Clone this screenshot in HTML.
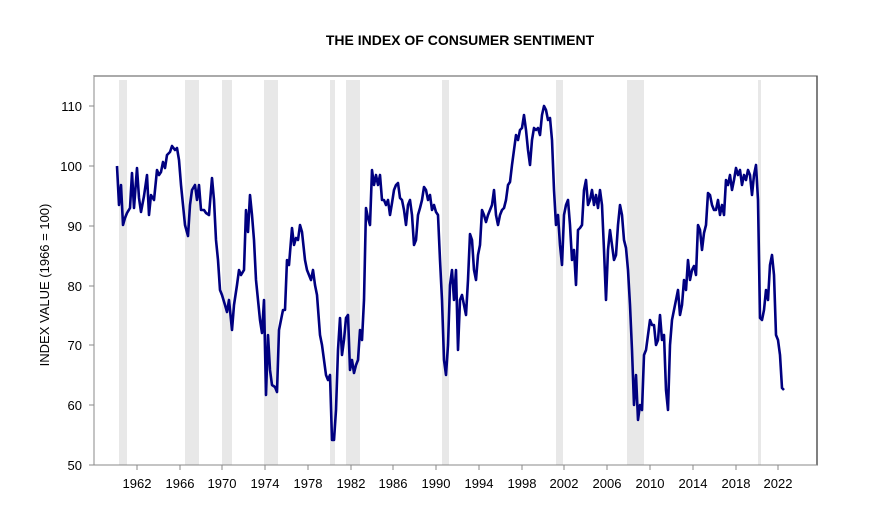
<!DOCTYPE html>
<html><head><style>body{margin:0;background:#fff}svg{display:block;font-family:"Liberation Sans",Arial,sans-serif}</style></head><body>
<svg width="891" height="517" viewBox="0 0 891 517">
<text x="460" y="45" text-anchor="middle" font-size="14" font-weight="bold">THE INDEX OF CONSUMER SENTIMENT</text>
<g fill="#e8e8e8">
<rect x="119" y="80" width="8" height="385"/><rect x="185" y="80" width="14" height="385"/><rect x="222" y="80" width="10" height="385"/><rect x="264" y="80" width="14" height="385"/><rect x="330" y="80" width="5" height="385"/><rect x="346" y="80" width="14" height="385"/><rect x="442" y="80" width="7" height="385"/><rect x="556" y="80" width="7" height="385"/><rect x="627" y="80" width="17" height="385"/><rect x="758" y="80" width="3" height="385"/>
</g>
<rect x="94" y="76" width="723" height="389" fill="none" stroke="#000" stroke-width="1"/>
<line x1="94" y1="76" x2="817" y2="76" stroke="#555"/>
<line x1="94" y1="76" x2="94" y2="465" stroke="#888"/>
<line x1="94" y1="465" x2="817" y2="465" stroke="#888"/>
<g stroke="#888">
<line x1="89" y1="106" x2="94" y2="106"/><line x1="89" y1="166" x2="94" y2="166"/><line x1="89" y1="226" x2="94" y2="226"/><line x1="89" y1="286" x2="94" y2="286"/><line x1="89" y1="345" x2="94" y2="345"/><line x1="89" y1="405" x2="94" y2="405"/><line x1="89" y1="465" x2="94" y2="465"/>
<line x1="137" y1="465" x2="137" y2="470"/><line x1="180" y1="465" x2="180" y2="470"/><line x1="222" y1="465" x2="222" y2="470"/><line x1="265" y1="465" x2="265" y2="470"/><line x1="308" y1="465" x2="308" y2="470"/><line x1="351" y1="465" x2="351" y2="470"/><line x1="393" y1="465" x2="393" y2="470"/><line x1="436" y1="465" x2="436" y2="470"/><line x1="479" y1="465" x2="479" y2="470"/><line x1="522" y1="465" x2="522" y2="470"/><line x1="564" y1="465" x2="564" y2="470"/><line x1="607" y1="465" x2="607" y2="470"/><line x1="650" y1="465" x2="650" y2="470"/><line x1="693" y1="465" x2="693" y2="470"/><line x1="736" y1="465" x2="736" y2="470"/><line x1="778" y1="465" x2="778" y2="470"/>
</g>
<g font-size="13" text-anchor="end">
<text x="82" y="111">110</text><text x="82" y="171">100</text><text x="82" y="231">90</text><text x="82" y="291">80</text><text x="82" y="350">70</text><text x="82" y="410">60</text><text x="82" y="470">50</text>
</g>
<g font-size="13" text-anchor="middle">
<text x="137" y="488">1962</text><text x="180" y="488">1966</text><text x="222" y="488">1970</text><text x="265" y="488">1974</text><text x="308" y="488">1978</text><text x="351" y="488">1982</text><text x="393" y="488">1986</text><text x="436" y="488">1990</text><text x="479" y="488">1994</text><text x="522" y="488">1998</text><text x="564" y="488">2002</text><text x="607" y="488">2006</text><text x="650" y="488">2010</text><text x="693" y="488">2014</text><text x="736" y="488">2018</text><text x="778" y="488">2022</text>
</g>
<text transform="translate(49,285) rotate(-90)" font-size="13" text-anchor="middle">INDEX VALUE (1966 = 100)</text>
<polyline fill="none" stroke="#000080" stroke-width="2.6" stroke-linejoin="round" points="117,166 119,205 121,185 123,225 125,218 127,213 130,208 132,173 134,208 137,168 139,198 141,212 144,196 147,175 149,215 151,195 154,200 157,170 159,175 161,172 163,162 165,168 167,155 170,152 172,146 175,150 177,148 179,160 181,185 183,205 185,225 188,236 190,205 192,190 195,185 197,200 199,185 201,210 204,210 206,213 209,215 212,178 214,200 216,240 218,260 220,290 222,295 225,305 227,312 229,300 232,330 234,305 237,285 239,270 241,275 244,270 246,210 248,232 250,195 252,215 254,240 256,280 258,300 260,320 262,333 264,300 266,395 268,335 270,370 272,385 275,387 277,392 279,330 281,320 283,310 285,310 287,260 289,265 292,228 294,245 296,238 298,240 300,225 302,232 305,260 307,270 309,275 311,280 313,270 315,285 317,295 320,335 322,345 324,360 326,375 328,380 330,375 332,440 334,440 336,410 338,350 340,318 342,355 344,340 346,318 348,315 350,370 352,360 354,373 356,365 358,360 360,330 362,340 364,300 366,208 368,218 370,225 372,170 374,185 376,175 378,185 380,175 382,200 384,200 386,205 388,200 390,215 392,203 394,190 396,185 398,183 400,198 402,200 404,210 406,225 408,205 410,200 412,215 414,245 416,240 418,215 420,208 422,200 424,187 426,190 428,200 430,195 432,210 434,205 436,212 438,215 440,260 442,300 444,360 446,375 448,345 450,285 452,270 454,300 456,270 458,350 460,300 462,295 464,305 466,315 468,280 470,234 472,240 474,270 476,280 478,255 480,245 482,210 484,215 486,222 488,215 490,210 492,205 494,190 496,215 498,225 500,215 502,210 504,208 506,200 508,185 510,182 512,165 514,150 516,135 518,140 520,130 522,128 524,115 526,130 528,150 530,165 532,140 534,128 536,130 538,128 540,135 542,115 544,106 546,110 548,120 550,118 552,140 554,190 556,225 558,215 560,245 562,265 564,215 566,205 568,200 570,225 572,260 574,250 576,285 578,230 580,228 582,225 584,190 586,180 588,205 590,200 592,190 594,205 596,195 598,208 600,190 602,205 604,250 606,300 608,250 610,230 612,245 614,260 616,255 618,225 620,205 622,215 624,240 626,248 628,270 630,305 632,350 634,405 636,375 638,420 640,405 642,410 644,355 646,350 648,335 650,320 652,325 654,325 656,345 658,340 660,315 662,340 664,335 666,390 668,410 670,345 672,320 674,310 676,300 678,290 680,315 682,305 684,280 686,290 688,260 690,280 692,270 694,266 696,275 698,225 700,230 702,250 704,233 706,225 708,193 710,195 712,205 714,210 716,210 718,200 720,215 722,205 724,215 726,180 728,185 730,175 732,190 734,180 736,168 738,175 740,170 742,185 744,175 746,180 748,170 750,175 752,195 754,175 756,165 758,200 760,318 762,320 764,310 766,290 768,300 770,265 772,255 774,275 776,335 778,340 780,355 782,388 784,390"/>
</svg>
</body></html>
